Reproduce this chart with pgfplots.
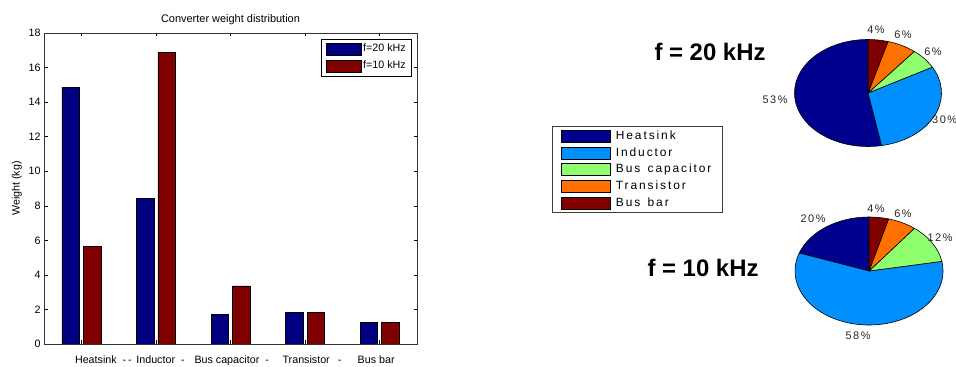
\documentclass[border=0pt]{standalone}
\usepackage{pgfplots}
\pgfplotsset{compat=1.18}
\usepackage{pgfplotstable}
\usepackage{fontspec}
\setmainfont{Liberation Sans}
\newfontfamily\spaced[LetterSpace=14]{Liberation Sans}
\newfontfamily\spacedleg[LetterSpace=16,WordSpace=1.4]{Liberation Sans}

\definecolor{barblue}{RGB}{0,0,128}
\definecolor{barred}{RGB}{128,0,0}
\definecolor{cheat}{RGB}{0,0,143}
\definecolor{cind}{RGB}{0,143,255}
\definecolor{cbus}{RGB}{143,255,112}
\definecolor{ctra}{RGB}{255,112,0}
\definecolor{cbar}{RGB}{128,0,0}

\pgfplotsset{
  barleg/.style={legend image code/.code={\draw[##1] (0bp,-6bp) rectangle (35bp,6bp);}},
  pieleg/.style={legend image code/.code={\draw[##1] (0bp,-6bp) rectangle (49bp,6bp);}},
}

\pgfplotstableread{
x h20 h10
1 14.85 5.67
2 8.43 16.86
3 1.72 3.37
4 1.81 1.81
5 1.23 1.23
}\weights

\pgfplotstablegetelem{0}{h20}\of\weights \let\wA\pgfplotsretval
\pgfplotstablegetelem{1}{h20}\of\weights \let\wB\pgfplotsretval
\pgfplotstablegetelem{2}{h20}\of\weights \let\wC\pgfplotsretval
\pgfplotstablegetelem{3}{h20}\of\weights \let\wD\pgfplotsretval
\pgfplotstablegetelem{4}{h20}\of\weights \let\wE\pgfplotsretval
\pgfplotstablegetelem{0}{h10}\of\weights \let\vA\pgfplotsretval
\pgfplotstablegetelem{1}{h10}\of\weights \let\vB\pgfplotsretval
\pgfplotstablegetelem{2}{h10}\of\weights \let\vC\pgfplotsretval
\pgfplotstablegetelem{3}{h10}\of\weights \let\vD\pgfplotsretval
\pgfplotstablegetelem{4}{h10}\of\weights \let\vE\pgfplotsretval

% #1,#2 centre, #3 start angle, #4 end angle, #5 colour, #6 x radius, #7 y radius
\newcommand\pieslice[7]{%
  \filldraw[fill=#5, draw=black, line width=0.6pt, line join=round]
    (axis cs:#1,#2) -- ++(#3:#6 and #7)
    arc[start angle=#3, end angle=#4, x radius=#6, y radius=#7] -- cycle;}

\begin{document}
\begin{tikzpicture}[x=1bp,y=1bp]
\pgfmathsetmacro\tA{\wA+\wB+\wC+\wD+\wE}
\pgfmathsetmacro\aA{90+360*\wA/\tA}
\pgfmathsetmacro\aB{\aA+360*\wB/\tA}
\pgfmathsetmacro\aC{\aB+360*\wC/\tA}
\pgfmathsetmacro\aD{\aC+360*\wD/\tA}
\pgfmathsetmacro\tB{\vA+\vB+\vC+\vD+\vE}
\pgfmathsetmacro\bA{90+360*\vA/\tB}
\pgfmathsetmacro\bB{\bA+360*\vB/\tB}
\pgfmathsetmacro\bC{\bB+360*\vC/\tB}
\pgfmathsetmacro\bD{\bC+360*\vD/\tB}

\begin{axis}[
  at={(44bp,23bp)}, anchor=south west, scale only axis,
  width=373bp, height=311bp,
  xmin=0.5, xmax=5.5, ymin=0, ymax=18,
  ytick={0,2,...,18}, xtick={1,2,3,4,5},
  xticklabels={{\makebox[0pt][l]{\hspace{-6.25bp}Heatsink\ \ -\,-}},
               {\makebox[0pt][l]{\hspace{-19.5bp}Inductor\ \ -}},
               {\makebox[0pt][l]{\hspace{-36bp}Bus capacitor\ \ -}},
               {\makebox[0pt][l]{\hspace{-22.5bp}Transistor\hspace{8bp}-}},
               {\makebox[0pt][l]{\hspace{-22bp}Bus bar}}},
  tick align=inside, major tick length=3.5bp,
  tick style={black, line width=0.5pt},
  axis line style={line width=0.6pt, black!80},
  /pgf/number format/assume math mode=true,
  ticklabel style={font=\fontsize{10.75}{12}\selectfont},
  xticklabel style={yshift=-8.5bp},
  title={Converter weight distribution},
  title style={font=\fontsize{11}{13}\selectfont, yshift=-1.5bp},
  ylabel={Weight (kg)},
  ylabel style={font=\fontsize{10.75}{12}\selectfont},
  legend style={at={(0.9866,0.9807)}, anchor=north east, draw=black, line width=0.6pt,
    font=\fontsize{10.75}{12}\selectfont, inner xsep=4bp, inner ysep=1.5bp,
    nodes={inner xsep=2bp, inner ysep=3bp, text height=8bp, text depth=3bp}},
  legend cell align=left,
]
\addplot[ybar, bar width=17.5bp, bar shift=-10.75bp, fill=barblue, draw=black, line width=0.5pt, barleg]
  table[x=x, y=h20]{\weights};
\addlegendentry{f=20 kHz}
\addplot[ybar, bar width=17.5bp, bar shift=10.75bp, fill=barred, draw=black, line width=0.5pt, barleg]
  table[x=x, y=h10]{\weights};
\addlegendentry{f=10 kHz}
\end{axis}

\begin{axis}[
  at={(0bp,0bp)}, anchor=south west, scale only axis,
  width=956bp, height=367bp,
  xmin=0, xmax=956, ymin=0, ymax=367,
  hide axis, clip=false,
  legend style={at={(0.5774,0.6567)}, anchor=north west, draw=black!75, line width=0.6pt,
    font=\spacedleg\fontsize{12}{14}\selectfont, inner xsep=9bp, inner ysep=1.5bp,
    /tikz/every odd column/.append style={column sep=3bp},
    nodes={inner xsep=2bp, inner ysep=2.1bp, text height=9.5bp, text depth=3bp}},
  legend cell align=left,
  pieleg,
]
\addlegendimage{fill=cheat, draw=black, line width=0.6pt}
\addlegendentry{Heatsink}
\addlegendimage{fill=cind, draw=black, line width=0.6pt}
\addlegendentry{Inductor}
\addlegendimage{fill=cbus, draw=black, line width=0.6pt}
\addlegendentry{Bus capacitor}
\addlegendimage{fill=ctra, draw=black, line width=0.6pt}
\addlegendentry{Transistor}
\addlegendimage{fill=cbar, draw=black, line width=0.6pt}
\addlegendentry{Bus bar}

% pie f = 20 kHz
\pieslice{868}{274}{90}{\aA}{cheat}{73.5bp}{53.5bp}
\pieslice{868}{274}{\aA}{\aB}{cind}{73.5bp}{53.5bp}
\pieslice{868}{274}{\aB}{\aC}{cbus}{73.5bp}{53.5bp}
\pieslice{868}{274}{\aC}{\aD}{ctra}{73.5bp}{53.5bp}
\pieslice{868}{274}{\aD}{450}{cbar}{73.5bp}{53.5bp}
% pie f = 10 kHz
\pieslice{869}{96}{90}{\bA}{cheat}{74bp}{54bp}
\pieslice{869}{96}{\bA}{\bB}{cind}{74bp}{54bp}
\pieslice{869}{96}{\bB}{\bC}{cbus}{74bp}{54bp}
\pieslice{869}{96}{\bC}{\bD}{ctra}{74bp}{54bp}
\pieslice{869}{96}{\bD}{450}{cbar}{74bp}{54bp}

\begin{scope}[every node/.style={font=\spaced\fontsize{11}{13}\selectfont, text=black!85, inner sep=0pt}]
\node at (axis cs:876,337) {4\%};
\node at (axis cs:903,332) {6\%};
\node at (axis cs:933,315) {6\%};
\node[anchor=west] at (axis cs:932,247) {30\%};
\node at (axis cs:775,267) {53\%};
\node at (axis cs:813,148) {20\%};
\node at (axis cs:876,158) {4\%};
\node at (axis cs:903,153) {6\%};
\node at (axis cs:940,129) {12\%};
\node at (axis cs:858,31) {58\%};
\end{scope}
\node[font=\bfseries\fontsize{24}{28}\selectfont] at (axis cs:710,315) {f = 20 kHz};
\node[font=\bfseries\fontsize{24}{28}\selectfont] at (axis cs:703,99) {f = 10 kHz};
\end{axis}
\pgfresetboundingbox
\useasboundingbox (0bp,0bp) rectangle (956bp,367bp);
\end{tikzpicture}
\end{document}
